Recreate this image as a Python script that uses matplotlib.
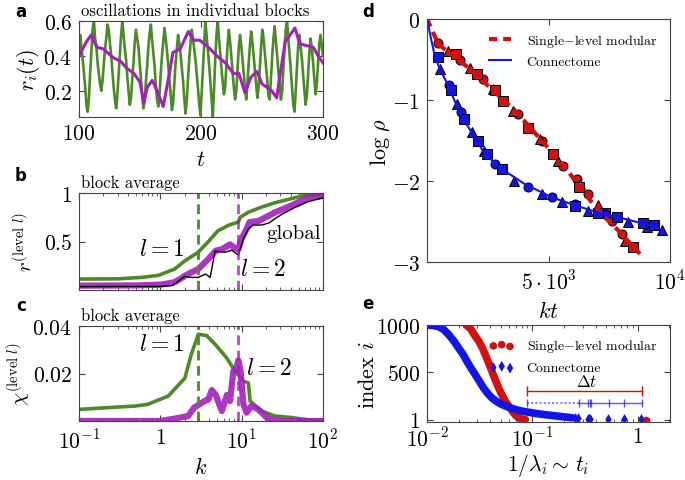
import numpy as np
import matplotlib.pyplot as plt
from matplotlib.ticker import NullFormatter, FixedLocator

plt.rcParams['font.family'] = 'serif'
plt.rcParams['font.serif'] = ['cmr10']
plt.rcParams['mathtext.fontset'] = 'cm'
plt.rcParams['axes.formatter.use_mathtext'] = True

GREEN = '#4b8a26'
MAG = '#a41fbd'
RED = '#d40f0f'
BLUE = '#1414e6'

# ---- panel a: oscillations in individual blocks
green_r = [0.45, 0.52, 0.44, 0.38, 0.30, 0.22, 0.12, 0.08, 0.16, 0.30, 0.42, 0.55,
           0.60, 0.50, 0.46, 0.36, 0.30, 0.24, 0.20, 0.26, 0.35, 0.44, 0.50, 0.58,
           0.55, 0.47, 0.40, 0.31, 0.22, 0.15, 0.10, 0.18, 0.30, 0.41, 0.52, 0.60,
           0.52, 0.44, 0.38, 0.28, 0.20, 0.12, 0.16, 0.27, 0.36, 0.48, 0.55, 0.50,
           0.45, 0.36, 0.27, 0.18, 0.10, 0.14, 0.25, 0.34, 0.45, 0.53, 0.58, 0.49,
           0.42, 0.34, 0.24, 0.15, 0.11, 0.18, 0.30, 0.40, 0.48, 0.56, 0.50, 0.43,
           0.35, 0.27, 0.18, 0.09, 0.13, 0.25, 0.36, 0.44, 0.52, 0.47, 0.41, 0.33,
           0.26, 0.16, 0.07, 0.14, 0.27, 0.38, 0.47, 0.55, 0.50, 0.44, 0.38, 0.30,
           0.22, 0.13, 0.06, 0.18, 0.32, 0.46, 0.60, 0.52, 0.44, 0.35, 0.26, 0.16,
           0.05, 0.20, 0.38, 0.52, 0.60, 0.50, 0.42, 0.33, 0.25, 0.18, 0.22, 0.35,
           0.47, 0.55, 0.48, 0.40, 0.31, 0.22, 0.15, 0.20, 0.33, 0.45, 0.52, 0.46,
           0.38, 0.30, 0.22, 0.15, 0.24, 0.36, 0.46, 0.54, 0.48, 0.40, 0.32, 0.24,
           0.16, 0.22, 0.34, 0.45, 0.55, 0.50, 0.42, 0.34, 0.26, 0.17, 0.15, 0.28,
           0.40, 0.50, 0.57, 0.48, 0.40, 0.31, 0.23, 0.15, 0.20, 0.33, 0.45, 0.56,
           0.60, 0.50, 0.41, 0.32, 0.22, 0.12, 0.08, 0.20, 0.34, 0.46, 0.52, 0.45,
           0.38, 0.29, 0.20, 0.12, 0.18, 0.30, 0.42, 0.50, 0.44, 0.36, 0.27, 0.18,
           0.24, 0.36, 0.47, 0.52, 0.46, 0.40]
green_t = np.linspace(100, 300, len(green_r))

mag_t = [100, 103, 106, 110, 114.5, 120, 128, 134, 139, 145, 150, 153, 156, 160, 164,
         169, 172, 177, 183, 189.6, 194, 199, 206, 213, 220, 226.5, 231, 236, 241, 246,
         250, 254, 258, 262, 265, 269, 273, 277, 281, 286, 292, 296, 300]
mag_r = [0.40, 0.44, 0.48, 0.52, 0.45, 0.44, 0.39, 0.37, 0.33, 0.30, 0.25, 0.13, 0.22, 0.26, 0.20,
         0.11, 0.22, 0.42, 0.44, 0.54, 0.49, 0.49, 0.45, 0.40, 0.36, 0.30, 0.30, 0.19, 0.28, 0.31,
         0.24, 0.22, 0.20, 0.16, 0.30, 0.48, 0.52, 0.56, 0.47, 0.46, 0.45, 0.40, 0.36]

# ---- panel b: block average order parameter
kb_green = [0.1, 0.3, 0.59, 0.94, 1.5, 2.0, 2.93, 4.0, 5.1, 7.0, 9.1, 9.6, 12, 17, 25.7, 40, 55, 100]
rb_green = [0.113, 0.115, 0.13, 0.15, 0.216, 0.30, 0.39, 0.51, 0.61, 0.67, 0.70, 0.75, 0.80, 0.85, 0.90, 0.94, 0.97, 0.985]
kb_mag = [0.1, 0.5, 1.0, 1.5, 2.2, 2.93, 3.9, 4.8, 5.7, 7.2, 8.3, 9.1, 10.0, 11.5, 12.5, 16, 25.7, 40.5, 65, 100]
rb_mag = [0.045, 0.047, 0.055, 0.08, 0.165, 0.216, 0.32, 0.405, 0.42, 0.47, 0.43, 0.42, 0.53, 0.63, 0.70, 0.71, 0.80, 0.87, 0.95, 0.97]
kb_glob = [0.1, 1.0, 1.4, 2.0, 2.4, 2.93, 3.6, 4.1, 4.7, 6.25, 7.55, 8.4, 9.1, 10.5, 12.1, 13.9, 17.6, 21.5, 31, 45, 65, 100]
rb_glob = [0.035, 0.037, 0.045, 0.14, 0.13, 0.13, 0.165, 0.13, 0.40, 0.39, 0.41, 0.38, 0.36, 0.53, 0.63, 0.67, 0.67, 0.69, 0.78, 0.85, 0.91, 0.95]

# ---- panel c: block average susceptibility
kc_green = [0.1, 0.49, 0.7, 1.25, 2.0, 2.4, 2.93, 3.7, 4.8, 6.5, 8.3, 10.5, 12.1, 12.7, 17.6, 25.7, 40, 65, 100]
chi_green = [0.0049, 0.0063, 0.0070, 0.0105, 0.018, 0.028, 0.0365, 0.036, 0.032, 0.0267, 0.021, 0.0168, 0.016, 0.0084, 0.0042, 0.0021, 0.0015, 0.0005, 0.0]
kc_mag = [0.1, 1.0, 1.5, 2.2, 2.6, 3.5, 3.9, 4.3, 4.8, 5.7, 6.6, 7.2, 7.9, 8.6, 9.1, 9.7, 10.5, 11.5, 13.2, 16, 21, 30, 100]
chi_mag = [0.0, 0.0, 0.001, 0.0021, 0.0056, 0.0084, 0.0091, 0.013, 0.011, 0.0042, 0.011, 0.0084, 0.021, 0.022, 0.0255, 0.021, 0.007, 0.0035, 0.0063, 0.0049, 0.001, 0.0, 0.0]

k_level1 = 2.93
k_level2 = 9.1

# ---- panel d: decay of log rho
fit_red_kt = [0, 465, 1700, 3620, 4720, 5680, 6500, 7190, 7870, 8765]
fit_red_y = [0, -0.31, -0.60, -1.13, -1.50, -1.83, -2.16, -2.41, -2.61, -2.90]
fit_blue_kt = [0, 150, 330, 535, 905, 1358, 1838, 2387, 3073, 4033, 5130, 6090, 7050, 8150, 9245]
fit_blue_y = [0, -0.22, -0.47, -0.62, -0.84, -1.17, -1.40, -1.67, -1.85, -2.04, -2.20, -2.30, -2.39, -2.47, -2.55]

red_o_kt = [440, 1358, 2317, 3760, 4720, 5610, 6160, 6640, 7600, 8010]
red_o_y = [-0.30, -0.51, -0.74, -1.17, -1.50, -1.81, -1.98, -2.16, -2.49, -2.65]
red_t_kt = [878, 1770, 2730, 3550, 4650, 5400, 6300, 7050, 8150]
red_t_y = [-0.40, -0.60, -0.86, -1.13, -1.48, -1.75, -2.04, -2.30, -2.74]
red_s_kt = [1207, 2045, 2800, 3140, 4170, 5200, 6250, 7325, 8490]
red_s_y = [-0.43, -0.68, -0.88, -1.01, -1.34, -1.67, -2.07, -2.40, -2.82]

blue_o_kt = [905, 1400, 2800, 4170, 5130, 6090, 7325]
blue_o_y = [-0.82, -1.15, -1.79, -2.08, -2.20, -2.28, -2.41]
blue_t_kt = [535, 1220, 1838, 2360, 3590, 4720, 5540, 6640, 8285, 9040, 9685]
blue_t_y = [-0.62, -1.05, -1.40, -1.63, -2.00, -2.16, -2.26, -2.37, -2.51, -2.57, -2.61]
blue_s_kt = [440, 988, 1536, 2112, 2455, 3073, 6090, 7050, 7800, 8900, 9355]
blue_s_y = [-0.47, -0.88, -1.23, -1.50, -1.67, -1.85, -2.31, -2.39, -2.45, -2.52, -2.54]

# ---- panel e: eigenvalue time scales
red_ti = [0.0235, 0.026, 0.028, 0.031, 0.0335, 0.0356, 0.0385, 0.0413, 0.0445, 0.0479,
          0.0515, 0.0553, 0.060, 0.0645, 0.069, 0.0741, 0.080, 0.0857]
red_idx = [1000, 960, 900, 830, 760, 690, 600, 513, 420, 336, 260, 196, 140, 90, 50, 19, 6, 1]
red_tail_ti = [1.2]
red_tail_idx = [1]
blue_ti = [0.0095, 0.0115, 0.013, 0.0145, 0.016, 0.018, 0.0199, 0.022, 0.0239, 0.026, 0.0286,
           0.0315, 0.0344, 0.0375, 0.0413, 0.046, 0.0513, 0.060, 0.0691, 0.080, 0.099, 0.12,
           0.154, 0.19, 0.239]
blue_idx = [1000, 995, 980, 950, 900, 830, 759, 690, 618, 550, 478, 405, 336, 280, 230, 190,
            160, 130, 107, 90, 72, 58, 44, 32, 20]
blue_tail_ti = [0.255, 0.27, 0.335, 0.345, 0.355, 0.52, 0.75, 1.07]
blue_tail_idx = [14, 12, 8, 7, 6, 5, 3, 2]

dt_start = 0.089
dt_end = 1.1
dt_red_idx = 301
dt_blue_idx = 178
dt_blue_dense_end = 0.276
dt_blue_marks = [0.089, 0.276, 0.338, 0.35, 0.36, 0.53, 0.75, 1.09]

TICK_SIZE = 15.5


def style(ax):
    ax.tick_params(which='both', direction='in', top=True, right=True, labelsize=TICK_SIZE,
                   color='#444444', pad=5)
    ax.tick_params(which='major', length=4)
    ax.tick_params(which='minor', length=2)
    for s in ax.spines.values():
        s.set_color('#444444')


fig = plt.figure(figsize=(6.85, 4.81), dpi=100)
W, H = 685.0, 481.0


def box(l, t, r, b):
    return [l / W, 1 - b / H, (r - l) / W, (b - t) / H]


# a
ax = fig.add_axes(box(79, 22, 323, 118))
ax.plot(green_t, green_r, color=GREEN, lw=1.9)
ax.plot(mag_t, mag_r, color=MAG, lw=2.2)
ax.set_xlim(100, 300)
ax.set_ylim(0.05, 0.6)
ax.set_xticks([100, 200, 300])
ax.set_xticklabels(['$100$', '$200$', '$300$'])
ax.set_yticks([0.2, 0.4, 0.6])
ax.set_yticklabels(['$0.2$', '$0.4$', '$0.6$'])
style(ax)
ax.set_xlabel('$t$', fontsize=16, labelpad=4)
ax.set_ylabel('$r_i(t)$', fontsize=16)
ax.yaxis.set_label_coords(-0.15, 0.5)
ax.text(0.01, 1.03, 'oscillations in individual blocks', transform=ax.transAxes,
        fontsize=12, va='bottom', ha='left')

# b
ax = fig.add_axes(box(79, 194, 323, 291))
ax.plot(kb_green, rb_green, color=GREEN, lw=2.6)
ax.plot(kb_mag, rb_mag, color=MAG, lw=4.5, alpha=0.9)
ax.plot(kb_glob, rb_glob, color='black', lw=1.0)
ax.axvline(k_level1, color=GREEN, lw=2, ls=(0, (3.5, 2)))
ax.axvline(k_level2, color=MAG, lw=2, ls=(0, (3.5, 2)), alpha=0.8)
ax.set_xscale('log')
ax.set_xlim(0.1, 100)
ax.set_ylim(0, 1)
ax.set_yticks([0.5, 1])
ax.set_yticklabels(['$0.5$', '$1$'])
ax.xaxis.set_major_formatter(NullFormatter())
ax.xaxis.set_minor_formatter(NullFormatter())
style(ax)
ax.set_ylabel(r'$r^{(\mathrm{level}\ l)}$', fontsize=15)
ax.yaxis.set_label_coords(-0.175, 0.5)
ax.text(0.01, 1.03, 'block average', transform=ax.transAxes, fontsize=12,
        va='bottom', ha='left')
ax.text(0.55, 0.42, '$l=1$', fontsize=17, ha='left', va='center')
ax.text(9.6, 0.22, '$l=2$', fontsize=17, ha='left', va='center')
ax.text(20, 0.59, 'global', fontsize=15, ha='left', va='center')

# c
ax = fig.add_axes(box(79, 327, 323, 422))
ax.plot(kc_green, chi_green, color=GREEN, lw=2.6)
ax.plot(kc_mag, chi_mag, color=MAG, lw=4.5, alpha=0.9)
ax.axvline(k_level1, color=GREEN, lw=2, ls=(0, (3.5, 2)))
ax.axvline(k_level2, color=MAG, lw=2, ls=(0, (3.5, 2)), alpha=0.8)
ax.set_xscale('log')
ax.set_xlim(0.1, 100)
ax.set_ylim(0, 0.04)
ax.set_yticks([0.02, 0.04])
ax.set_yticklabels(['$0.02$', '$0.04$'])
ax.xaxis.set_major_locator(FixedLocator([0.1, 1, 10, 100]))
ax.set_xticklabels(['$10^{-1}$', '$1$', '$10^{1}$', '$10^{2}$'])
ax.xaxis.set_minor_formatter(NullFormatter())
style(ax)
ax.set_xlabel('$k$', fontsize=16, labelpad=3)
ax.set_ylabel(r'$\chi^{(\mathrm{level}\ l)}$', fontsize=15)
ax.yaxis.set_label_coords(-0.19, 0.5)
ax.text(0.01, 1.03, 'block average', transform=ax.transAxes, fontsize=12,
        va='bottom', ha='left')
ax.text(0.55, 0.0325, '$l=1$', fontsize=17, ha='left', va='center')
ax.text(11.2, 0.0225, '$l=2$', fontsize=17, ha='left', va='center')

# d
ax = fig.add_axes(box(427, 20, 670, 263))
mk = dict(ls='none', ms=6.5, mec='black', mew=0.7)
ax.plot(red_o_kt, red_o_y, marker='o', color=RED, **mk)
ax.plot(red_t_kt, red_t_y, marker='^', color=RED, **mk)
ax.plot(red_s_kt, red_s_y, marker='s', color=RED, **mk)
ax.plot(blue_o_kt, blue_o_y, marker='o', color=BLUE, **mk)
ax.plot(blue_t_kt, blue_t_y, marker='^', color=BLUE, **mk)
ax.plot(blue_s_kt, blue_s_y, marker='s', color=BLUE, **mk)
ax.plot(fit_red_kt, fit_red_y, color=RED, lw=3, ls=(0, (2, 1.4)), label=r'Single$-$level modular')
ax.plot(fit_blue_kt, fit_blue_y, color=BLUE, lw=1.5, label='Connectome')
ax.set_xlim(0, 10000)
ax.set_ylim(-3, 0)
ax.set_xticks([5000, 10000])
ax.set_xticklabels([r'$5\cdot 10^3$', '$10^4$'])
ax.set_yticks([0, -1, -2, -3])
ax.set_yticklabels(['$0$', '$-1$', '$-2$', '$-3$'])
style(ax)
ax.set_xlabel('$kt$', fontsize=16, labelpad=5)
ax.set_ylabel(r'$\log\,\rho$', fontsize=16)
ax.yaxis.set_label_coords(-0.145, 0.5)
ax.legend(loc='upper right', frameon=False, fontsize=10,
          handlelength=1.6, handletextpad=1.1)

# e
ax = fig.add_axes(box(427, 326, 670, 423))
ax.plot(red_ti, red_idx, color=RED, lw=5.5, solid_capstyle='round')
ax.plot(blue_ti, blue_idx, color=BLUE, lw=5.5, solid_capstyle='round')
ax.scatter(red_tail_ti, red_tail_idx, s=30, color=RED, marker='o', lw=0,
           label=r'Single$-$level modular')
ax.scatter(blue_tail_ti, blue_tail_idx, s=30, color=BLUE, marker='d', lw=0,
           label='Connectome')
ax.plot([dt_start, dt_end], [dt_red_idx, dt_red_idx], color=RED, lw=1)
ax.plot([dt_start, dt_end], [dt_red_idx, dt_red_idx], color=RED, ls='none',
        marker='|', ms=7, mew=1)
ax.plot([dt_start, dt_blue_dense_end], [dt_blue_idx, dt_blue_idx], color=BLUE,
        lw=1.5, ls=(0, (1, 1)), alpha=0.5)
ax.plot([dt_blue_dense_end, dt_blue_marks[-1]], [dt_blue_idx, dt_blue_idx], color=BLUE,
        lw=1, alpha=0.7)
ax.plot(dt_blue_marks, [dt_blue_idx] * len(dt_blue_marks), color=BLUE, ls='none',
        marker='|', ms=6, mew=1, alpha=0.7)
ax.text(0.33, dt_red_idx + 25, r'$\mathit{\Delta t}$', fontsize=12, ha='center', va='bottom')
ax.set_xscale('log')
ax.set_xlim(0.01, 2.03)
ax.set_ylim(-25, 1000)
ax.set_yticks([1, 500, 1000])
ax.set_yticklabels(['$1$', '$500$', '$1000$'])
ax.xaxis.set_major_locator(FixedLocator([0.01, 0.1, 1]))
ax.set_xticklabels(['$10^{-2}$', '$10^{-1}$', '$1$'])
ax.xaxis.set_minor_formatter(NullFormatter())
style(ax)
ax.tick_params(axis='x', pad=3)
ax.set_xlabel(r'$1/\lambda_i\sim\,t_i$', fontsize=15.5, labelpad=1)
ax.set_ylabel('index $i$', fontsize=16)
ax.yaxis.set_label_coords(-0.2, 0.5)
ax.legend(loc='upper right', frameon=False, fontsize=10,
          scatterpoints=3, handlelength=1.8, handletextpad=0.9)

for lab, x, y in [('a', 21, 12), ('b', 21, 176), ('c', 21, 306), ('d', 368, 12), ('e', 368, 304)]:
    fig.text(x / W, 1 - y / H, lab, family='DejaVu Sans', weight='bold', fontsize=12,
             ha='center', va='center')

fig.savefig('out.png', dpi=100)
